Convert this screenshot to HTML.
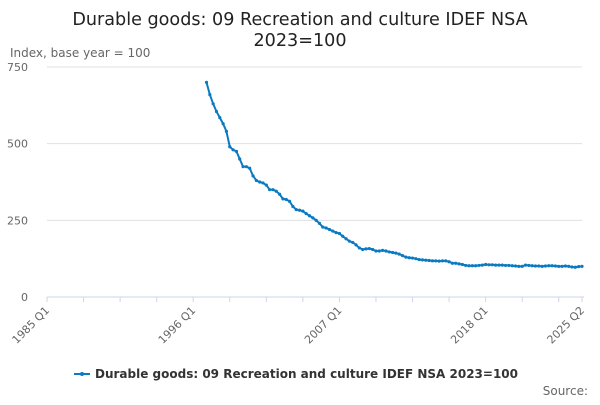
<!DOCTYPE html>
<html><head><meta charset="utf-8"><style>
body{margin:0;background:#fff;font-family:"Liberation Sans","DejaVu Sans",sans-serif;}
svg text{font-family:"DejaVu Sans","Liberation Sans",sans-serif;}
</style></head><body>
<svg width="600" height="400" id="c">
<text x="300" y="25" text-anchor="middle" font-size="17.6" fill="#222">Durable goods: 09 Recreation and culture IDEF NSA</text>
<text x="300" y="46" text-anchor="middle" font-size="17.6" fill="#222">2023=100</text>
<text x="10" y="57" font-size="12" fill="#666">Index, base year = 100</text>
<g id="grid"></g><g id="xaxis"></g><g id="series"></g>
<g>
<line x1="74" y1="374" x2="90" y2="374" stroke="#0a7ac3" stroke-width="2"/>
<circle cx="82" cy="374" r="2" fill="#0a7ac3"/>
<text x="95" y="378" font-size="12" font-weight="bold" fill="#333">Durable goods: 09 Recreation and culture IDEF NSA 2023=100</text>
</g>
<text x="588" y="395" text-anchor="end" font-size="12" fill="#666">Source:</text>
</svg>
<script>
const yTicks=[0,250,500,750];
const xTickLabels=["1985 Q1","1996 Q1","2007 Q1","2018 Q1","2025 Q2"];
const xTickIdx=[0,44,88,132,161];
const values=[700,660,630,605,585,565,540,490,480,475,450,425,425,420,395,380,375,372,365,350,350,345,335,320,318,312,295,285,283,280,272,265,258,250,240,228,225,220,215,210,207,198,190,182,178,170,160,155,157,158,155,150,150,152,150,147,145,143,140,135,130,128,127,125,122,121,120,119,118,118,117,118,118,115,110,110,108,106,103,102,102,102,103,104,106,105,105,104,104,104,103,103,102,101,100,100,104,103,102,101,101,100,101,102,102,101,100,100,101,100,98,97,99,100];
const ns="http://www.w3.org/2000/svg";
const x0=47,x1=582,nQ=161,y0=297,yTop=67,yMax=750;
const startIdx=48; // 1997 Q1
const xs=i=>x0+(x1-x0)*i/nQ;
const ys=v=>y0-(y0-yTop)*v/yMax;
function mk(t,a,p){const e=document.createElementNS(ns,t);for(const k in a)e.setAttribute(k,a[k]);p.appendChild(e);return e;}
const grid=document.getElementById('grid');
yTicks.forEach(v=>{
  if(v>0){const l=mk('line',{x1:x0,x2:x1,y1:ys(v),y2:ys(v),stroke:'#e0e0e0','stroke-width':1},grid);
  
  }
  const t=mk('text',{x:28,y:ys(v)+4,'text-anchor':'end','font-size':11,fill:'#666'},grid);
  t.textContent=v;
  
  
});
const xa=document.getElementById('xaxis');
const ax=mk('line',{x1:x0,x2:x1+2,y1:y0,y2:y0,stroke:'#ccd6eb','stroke-width':1},xa);


for(let i=0;i<=nQ;i+=11){mk('line',{x1:xs(i),x2:xs(i),y1:y0,y2:y0+5,stroke:'#ccd6eb'},xa);}
mk('line',{x1:xs(nQ),x2:xs(nQ),y1:y0,y2:y0+5,stroke:'#ccd6eb'},xa);
xTickLabels.forEach((s,k)=>{
  const x=xs(xTickIdx[k]),y=y0+14;
  const t=mk('text',{x:x+3,y:y,'text-anchor':'end','font-size':11,fill:'#666',transform:`rotate(-45 ${x+3} ${y})`},xa);
  t.textContent=s;
  
  
});
const sg=document.getElementById('series');
const pts=values.map((v,i)=>[xs(startIdx+i),ys(v)]);
const pl=mk('polyline',{points:pts.map(p=>p.join(',')).join(' '),fill:'none',stroke:'#0a7ac3','stroke-width':2},sg);


pts.forEach(p=>{const c=mk('circle',{cx:p[0],cy:p[1],r:1.6,fill:'#0a7ac3'},sg);

});
</script>
</body></html>
